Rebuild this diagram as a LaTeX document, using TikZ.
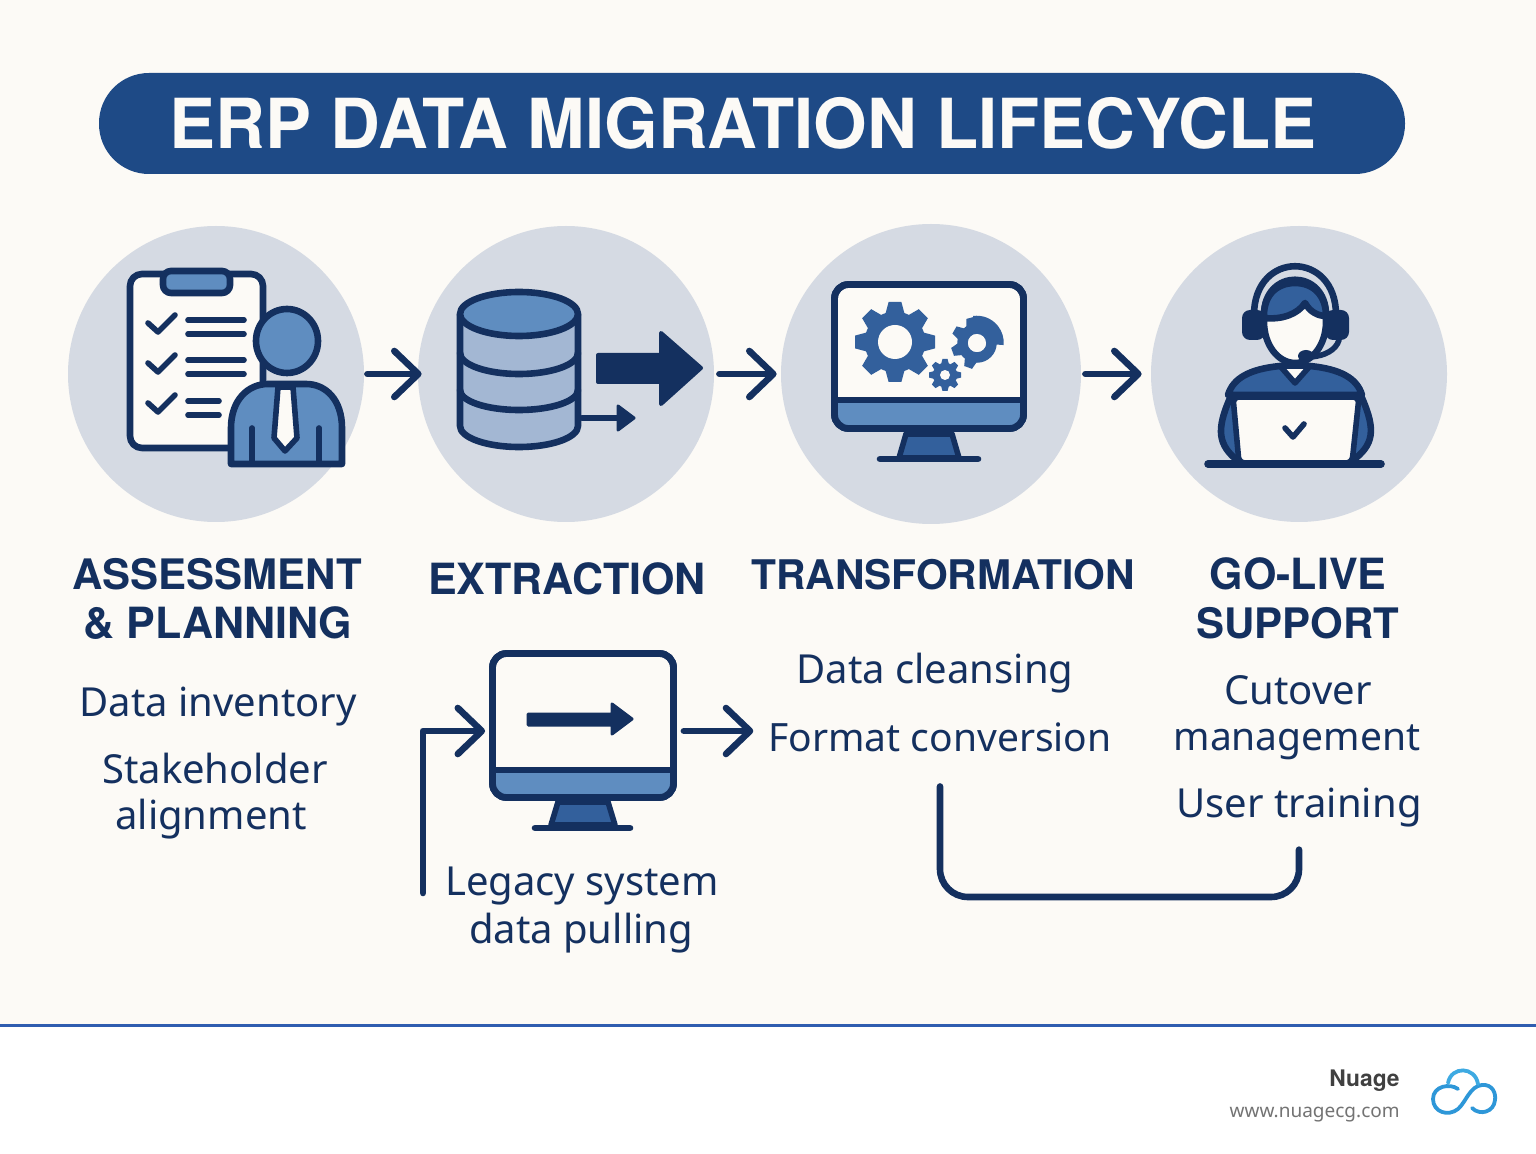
\documentclass[tikz,border=0pt]{standalone}
\usepackage{fontspec}
\setmainfont{Noto Sans}
\newfontfamily\headfont{TeX Gyre Heros}
\usetikzlibrary{arrows.meta, positioning, calc}
\definecolor{paper}{RGB}{252, 250, 246}
\definecolor{discgrey}{RGB}{213, 218, 227}
\definecolor{navy1}{RGB}{20, 48, 95}
\definecolor{titleblue}{RGB}{30, 74, 134}
\definecolor{midblue}{RGB}{95, 141, 192}
\definecolor{gearblue}{RGB}{51, 96, 156}
\definecolor{layerblue}{RGB}{163, 183, 211}
\definecolor{rulerblue}{RGB}{47, 93, 176}
\definecolor{logoblue}{RGB}{46, 151, 216}
\definecolor{logolight}{RGB}{62, 170, 226}
\tikzset{
  stagedisc/.style={circle, fill=discgrey, minimum size=148pt, inner sep=0pt},
  flow/.style={draw=navy1, line width=3.3pt, line cap=round, line join=round, -{Straight Barb[round, length=12pt, width=23pt]}},
  iconline/.style={draw=navy1, line width=3.3pt, line join=round, line cap=round},
  thinline/.style={draw=navy1, line width=2.8pt, line join=round, line cap=round},
  screenbox/.style={draw=navy1, fill=paper, line width=3.4pt, rounded corners=7pt, inner sep=0pt},
  headlabel/.style={anchor=base, text=navy1, font=\fontsize{21}{24}\selectfont\headfont\bfseries},
  bodylabel/.style={anchor=base, text=navy1, font=\fontsize{20}{24}\selectfont},
}
\newcommand{\gearicon}[5]{%
  \fill[gearblue] (#1,#2) circle (#3*0.76);
  \foreach \ang in {#5} {
    \fill[gearblue, shift={(#1,#2)}, rotate=\ang] (#3*0.7,-#3*0.24) -- (#3,-#3*0.16) -- (#3,#3*0.16) -- (#3*0.7,#3*0.24) -- cycle;
  }
  \fill[paper] (#1,#2) circle (#4);
}
\begin{document}
\begin{tikzpicture}[x=0.5pt, y=-0.5pt]
  \useasboundingbox (0,0) rectangle (1536,1154);
  \fill[paper] (0,0) rectangle (1536,1154);

  % Footer
  \fill[white] (0,1025) rectangle (1536,1154);
  \draw[rulerblue, line width=1.5pt] (0,1025) -- (1536,1025);
  \node[anchor=base east, inner sep=0pt, text=black!75, font=\fontsize{11.4}{14}\selectfont\headfont\bfseries] (brand) at (1400,1086) {Nuage};
  \node[anchor=base east, inner sep=0pt, text=black!55, font=\fontsize{9.5}{12}\selectfont] (site) at (1400,1117) {www.nuagecg.com};
  \draw[logoblue, line width=1.9pt, line cap=round] (1458,1089) .. controls (1450,1083) and (1433,1086) .. (1433,1099) .. controls (1433,1112) and (1448,1117) .. (1458,1109) .. controls (1466,1102) and (1470,1086) .. (1482,1085) .. controls (1493,1084) and (1496,1094) .. (1495,1100) .. controls (1494,1112) and (1480,1116) .. (1472,1108);
  \draw[logolight, line width=1.9pt, line cap=round] (1448,1083) .. controls (1451,1066) and (1475,1066) .. (1478,1084);

  % Title
  \node[fill=titleblue, rounded corners=25pt, minimum width=653pt, minimum height=50.5pt, inner sep=0pt] (titlebar) at (752,123.5) {};
  \node[anchor=base, text=paper, font=\fontsize{34.5}{40}\selectfont\headfont\bfseries] (titletext) at (743,149) {ERP DATA MIGRATION LIFECYCLE};

  % Stage discs
  \node[stagedisc] (assess) at (216,374) {};
  \node[stagedisc] (extract) at (566,374) {};
  \node[stagedisc, minimum size=150pt] (transform) at (931,374) {};
  \node[stagedisc] (golive) at (1299,374) {};

  % Arrows between the discs
  \draw[flow, shorten <=1.5pt, shorten >=-2pt] (assess.east) -- (extract.west);
  \draw[flow, shorten <=2.5pt, shorten >=2pt] (extract.east) -- (transform.west);
  \draw[flow, shorten <=2pt, shorten >=4.5pt] (transform.east) -- (golive.west);

  % Clipboard and person
  \draw[iconline, fill=paper, rounded corners=6pt] (130,274) rectangle (263,448);
  \draw[iconline, fill=midblue, rounded corners=4pt] (163,271) rectangle (230,293);
  \foreach \yy in {0,40,80} {
    \draw[thinline] (148,\yy+323) -- (158,\yy+332) -- (175,\yy+315);
  }
  \foreach \yy in {320,334,360,374} {
    \draw[thinline] (188,\yy) -- (244,\yy);
  }
  \draw[thinline] (188,401) -- (219,401);
  \draw[thinline] (188,415) -- (219,415);
  \draw[iconline, fill=midblue] (287,341) ellipse [x radius=31, y radius=32];
  \draw[iconline, fill=midblue] (231,464) -- (231,428) .. controls (231,400) and (248,384) .. (268,384) -- (306,384) .. controls (326,384) and (342,400) .. (342,428) -- (342,464) -- cycle;
  \draw[thinline, fill=paper] (278,387) -- (274,438) -- (285,451) -- (297,438) -- (293,387) -- cycle;
  \draw[thinline] (252,428) -- (252,463);
  \draw[thinline] (319,428) -- (319,463);

  % Database
  \draw[iconline, fill=layerblue] (460,314) -- (460,426) arc[start angle=180, end angle=0, x radius=59, y radius=21] -- (578,314) -- cycle;
  \draw[iconline] (460,353) arc[start angle=180, end angle=0, x radius=59, y radius=21];
  \draw[iconline] (460,390) arc[start angle=180, end angle=0, x radius=59, y radius=20];
  \draw[iconline, fill=midblue] (519,314) ellipse [x radius=59, y radius=22];
  \fill[navy1, draw=navy1, line width=2pt, line join=round] (598,355) -- (661,355) -- (661,333) -- (701,368) -- (661,404) -- (661,382) -- (598,382) -- cycle;
  \draw[thinline] (582,418) -- (620,418);
  \fill[navy1, draw=navy1, line width=1.5pt, line join=round] (618,406) -- (634,418) -- (618,430) -- cycle;

  % Monitor with gears
  \node[screenbox, minimum width=94.5pt, minimum height=72pt] (gearscreen) at (929,356.5) {};
  \fill[midblue] (834,400) -- (1024,400) [rounded corners=6pt] -- (1024,429) -- (834,429) [sharp corners] -- cycle;
  \draw[iconline] (837,400) -- (1021,400);
  \draw[screenbox, fill=none] (834.5,284.5) rectangle (1023.5,428.5);
  \draw[thinline, fill=gearblue] (906,434) -- (899,458) -- (959,458) -- (952,434) -- cycle;
  \draw[iconline] (880,459) -- (978,459);
  \gearicon{895}{342}{40}{17}{0,45,90,135,180,225,270,315}
  \gearicon{977}{343}{26}{9}{-110,-160,150,105,60,15}
  \fill[gearblue] (977,343) -- (973,316) arc[start angle=-98, end angle=5, radius=27] -- cycle;
  \fill[paper] (977,343) circle (9);
  \gearicon{945}{375}{16}{5}{0,45,90,135,180,225,270,315}

  % Support person at laptop
  \draw[iconline, fill=gearblue] (1230,398) .. controls (1216,430) and (1218,445) .. (1238,461) -- (1352,461) .. controls (1374,445) and (1376,430) .. (1362,398) -- cycle;
  \draw[iconline, fill=gearblue] (1228,395) .. controls (1233,378) and (1250,369) .. (1280,366) -- (1310,366) .. controls (1340,369) and (1357,378) .. (1362,395) -- cycle;
  \draw[thinline, fill=paper] (1280,366) -- (1295,383) -- (1310,366) -- cycle;
  \draw[iconline] (1254,315) .. controls (1254,250) and (1336,250) .. (1336,315);
  \draw[iconline] (1264,315) .. controls (1264,268) and (1326,268) .. (1326,315);
  \draw[iconline, fill=paper] (1295,322) ellipse [x radius=31, y radius=41];
  \draw[iconline, fill=gearblue] (1264,318) .. controls (1263,296) and (1276,283) .. (1295,283) .. controls (1314,283) and (1326,296) .. (1326,316) .. controls (1318,316) and (1310,312) .. (1305,303) .. controls (1298,314) and (1282,320) .. (1264,318) -- cycle;
  \fill[navy1, rounded corners=4pt] (1242,310) rectangle (1265,340);
  \fill[navy1, rounded corners=4pt] (1325,310) rectangle (1349,340);
  \draw[thinline] (1339,340) .. controls (1336,350) and (1325,356) .. (1310,357);
  \fill[navy1] (1306,356) ellipse [x radius=8, y radius=6];
  \draw[thinline, fill=paper, rounded corners=3pt] (1233,397) -- (1359,397) -- (1352,463) -- (1239,463) -- cycle;
  \draw[thinline] (1285,428) -- (1293,437) -- (1304,424);
  \draw[iconline, line width=3.8pt] (1208,464) -- (1381,464);

  % Stage headings
  \node[headlabel] (asshead) at (217,589) {ASSESSMENT};
  \node[headlabel, font=\fontsize{21.5}{24}\selectfont\headfont\bfseries] (planhead) at (218,638) {\& PLANNING};
  \node[headlabel, font=\fontsize{21.5}{24}\selectfont\headfont\bfseries] (exthead) at (567,595) {EXTRACTION};
  \node[headlabel, font=\fontsize{20.4}{24}\selectfont\headfont\bfseries] (transhead) at (943,589) {TRANSFORMATION};
  \node[headlabel, font=\fontsize{21.5}{24}\selectfont\headfont\bfseries] (livehead) at (1298,589) {GO-LIVE};
  \node[headlabel] (supphead) at (1298,639) {SUPPORT};

  % Stage items
  \node[bodylabel] (inventory) at (218,716) {Data inventory};
  \node[bodylabel] (stakeholder) at (215,783) {Stakeholder};
  \node[bodylabel] (alignment) at (211,829) {alignment};
  \node[bodylabel] (cleansing) at (935,683) {Data cleansing};
  \node[bodylabel, font=\fontsize{19.5}{24}\selectfont] (formatconv) at (940,751) {Format conversion};
  \node[bodylabel] (cutover) at (1298,704) {Cutover};
  \node[bodylabel, font=\fontsize{19.5}{24}\selectfont] (management) at (1297,750) {management};
  \node[bodylabel] (usertrain) at (1299,817) {User training};
  \node[bodylabel] (legacy) at (582,895) {Legacy system};
  \node[bodylabel] (pulling) at (581,943) {data pulling};

  % Legacy monitor
  \node[screenbox, minimum width=90.5pt, minimum height=72pt] (legacymon) at (583,725.5) {};
  \fill[midblue] (493,770) -- (673,770) [rounded corners=6pt] -- (673,798) -- (493,798) [sharp corners] -- cycle;
  \draw[iconline] (496,770) -- (670,770);
  \draw[screenbox, fill=none] (492.5,653.5) rectangle (673.5,797.5);
  \draw[thinline, fill=gearblue] (558,802) -- (551,825) -- (615,825) -- (608,802) -- cycle;
  \draw[iconline] (535,828) -- (630,828);
  \fill[navy1, draw=navy1, line width=1.5pt, line join=round] (528,714) -- (612,714) -- (612,704) -- (632,719) -- (612,734) -- (612,725) -- (528,725) -- cycle;

  % Connectors round the legacy monitor
  \coordinate (legacyfoot) at (423,893);
  \coordinate (legacyout) at ($(legacymon.east)+(7,5.5)$);
  \draw[flow] (legacyfoot) |- ($(legacymon.west)+(-4,5.5)$);
  \draw[flow, shorten >=4pt] (legacyout) -- (legacyout -| formatconv.west);

  % Bracket from format conversion to user training
  \coordinate (bracketlow) at (1120,897);
  \draw[iconline, rounded corners=14pt, shorten <=14pt, shorten >=8pt] (formatconv.south) |- (bracketlow) -| (usertrain.south);
\end{tikzpicture}
\end{document}
